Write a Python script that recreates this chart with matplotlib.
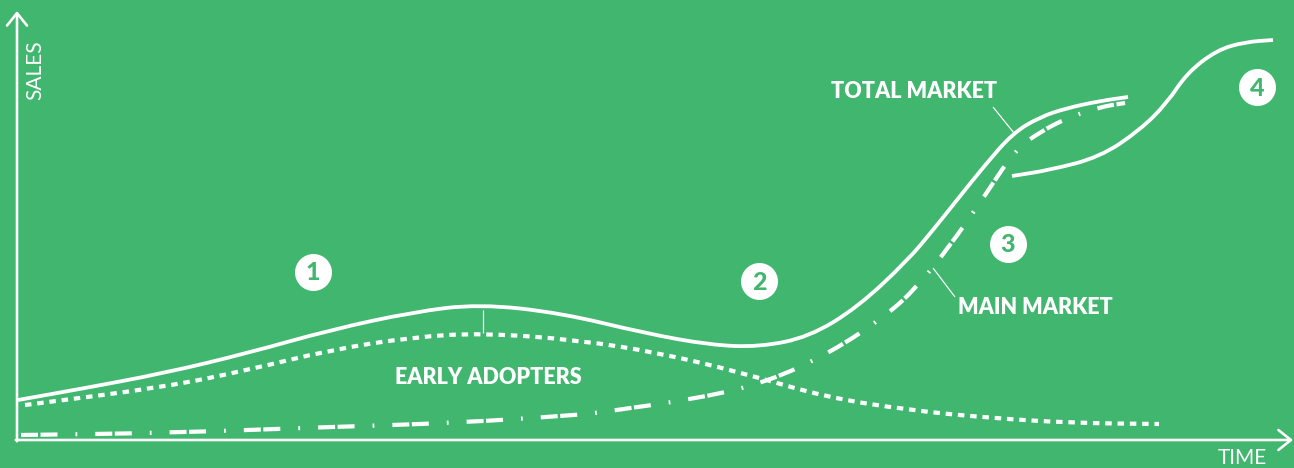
import matplotlib
matplotlib.use("Agg")
import matplotlib.pyplot as plt
from matplotlib.path import Path
from matplotlib.patches import PathPatch
import numpy as np

plt.rcParams['lines.scale_dashes'] = False

# ---- data (time, sales) ----
total_time = [1, 63, 148, 231, 313, 396, 462, 544, 627, 693, 742, 792, 841, 891, 916, 940, 968, 996, 1023, 1050, 1083, 1111]
total_sales = [40, 51, 67, 87, 110, 128, 136, 127, 107, 95, 93, 103, 133, 180, 210, 240, 275, 307, 323, 332, 339, 343]

early_time = [8, 148, 231, 313, 396, 466, 561, 643, 726, 808, 891, 973, 1056, 1142]
early_sales = [35, 53, 70, 90, 103, 107, 100, 87, 67, 43, 30, 22, 17, 16]

main_time = [4, 148, 313, 437, 561, 586, 684, 750, 813, 870, 900, 932, 965, 998, 1023, 1050, 1083, 1108]
main_sales = [5, 7, 13, 17, 25, 28, 42, 58, 87, 125, 153, 193, 240, 290, 308, 322, 333, 337]

next_time = [995, 1033, 1083, 1123, 1150, 1170, 1200, 1228, 1256]
next_sales = [264, 270, 283, 310, 337, 367, 390, 398, 400]

stage_labels = ["1", "2", "3", "4"]
stage_time = [296, 742, 991, 1240]
stage_sales = [168, 159, 196, 353]

BG = '#41B66E'
W = 'white'
PX = 72 / 100.0  # pixels -> points

fig = plt.figure(figsize=(12.94, 4.68), dpi=100, facecolor=BG)
ax = fig.add_axes([0, 0, 1, 1])
ax.set_facecolor(BG)
ax.set_xlim(-17, 1277)
ax.set_ylim(-28, 440)
ax.axis('off')


def smooth_path(xs, ys):
    pts = np.column_stack([xs, ys]).astype(float)
    verts = [pts[0], (pts[0] + pts[1]) / 2]
    codes = [Path.MOVETO, Path.LINETO]
    for i in range(1, len(pts) - 1):
        verts += [pts[i], (pts[i] + pts[i + 1]) / 2]
        codes += [Path.CURVE3, Path.CURVE3]
    verts.append(pts[-1])
    codes.append(Path.LINETO)
    return Path(verts, codes)


def draw_curve(xs, ys, ls='-', lw=3.4):
    p = PathPatch(smooth_path(xs, ys), fill=False, edgecolor=W, lw=lw * PX,
                  linestyle=ls, capstyle='butt', joinstyle='round')
    ax.add_patch(p)


draw_curve(total_time, total_sales, '-', 3.8)
draw_curve(next_time, next_sales, '-', 3.8)
draw_curve(early_time, early_sales, (0, (6.5 * PX, 5.8 * PX)), 4.2)
draw_curve(main_time, main_sales,
           (0, (17 * PX, 2.5 * PX, 17 * PX, 18 * PX, 1.8 * PX, 18 * PX)), 4.2)

# axes with open arrowheads
arrow = dict(arrowstyle='->,head_length=0.45,head_width=0.36', color=W,
             lw=2.6 * PX, mutation_scale=20, shrinkA=0, shrinkB=0)
ax.annotate('', xy=(0, 429), xytext=(0, -1.3), arrowprops=arrow)
ax.annotate('', xy=(1276, 0), xytext=(-1.3, 0), arrowprops=arrow)

ax.text(18, 370, 'SALES', color=W, rotation=90, ha='center', va='center',
        fontsize=15, family='Lato', fontweight='normal')
ax.text(1225, -18, 'TIME', color=W, ha='center', va='center',
        fontsize=15, family='Lato', fontweight='normal')

lab = dict(color=W, fontsize=15.5, family='Lato', fontweight='heavy',
           ha='center', va='center')
ax.text(897, 348, 'TOTAL MARKET', **lab)
ax.text(1018, 132, 'MAIN MARKET', **lab)
ax.text(471, 62, 'EARLY ADOPTERS', **lab)

lead = dict(color=W, lw=1.2 * PX, solid_capstyle='butt')
ax.plot([976, 997], [333, 307], **lead)
ax.plot([916, 938], [172, 143], **lead)
ax.plot([466, 466], [130, 107], **lead)

for s, t, v in zip(stage_labels, stage_time, stage_sales):
    ax.plot(t, v, 'o', ms=37 * PX, mfc=W, mec=W, mew=0)
    ax.text(t, v - 1, s, color=BG, fontsize=18, family='Lato', fontweight='black',
            ha='center', va='center')

fig.savefig('out.png', dpi=100, facecolor=BG)
